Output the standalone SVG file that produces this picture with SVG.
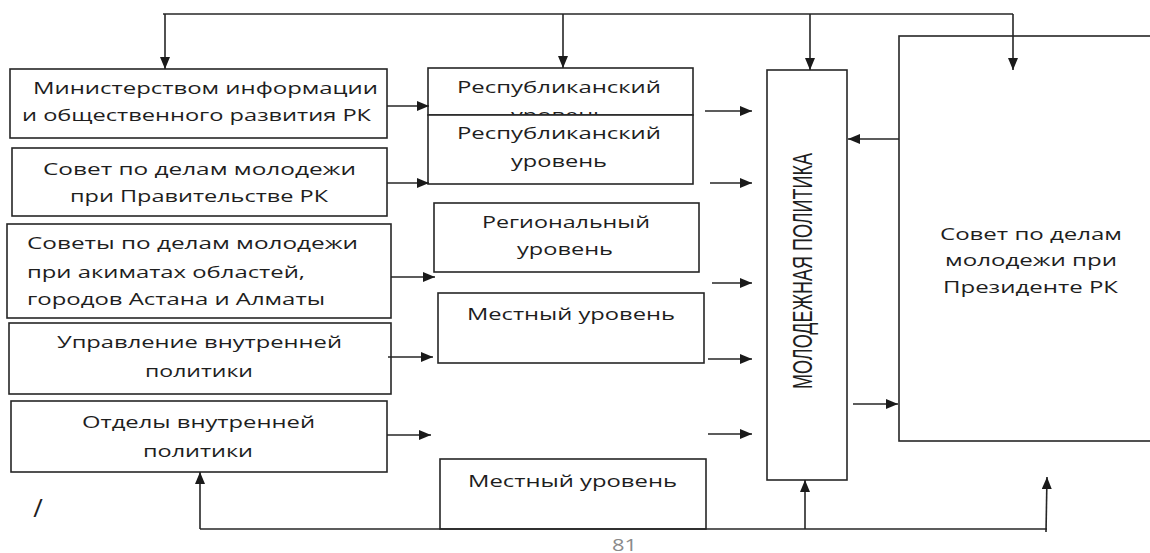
<svg xmlns="http://www.w3.org/2000/svg" width="1150" height="553" viewBox="0 0 1150 553">
<style>
.box{fill:#fff;stroke:#262626;stroke-width:1.6}
.ln{fill:none;stroke:#262626;stroke-width:1.6}
.ar{fill:none;stroke:#262626;stroke-width:1.6;marker-end:url(#ah)}
.t{font-family:"Open Sans","DejaVu Sans",sans-serif;font-size:16px;fill:#1e1e1e}
.v{font-family:"Liberation Sans",Arial,sans-serif;font-size:18px;fill:#1e1e1e}
</style>
<defs>
<marker id="ah" markerUnits="userSpaceOnUse" markerWidth="12" markerHeight="10" refX="12" refY="5" orient="auto">
<path d="M0,0 L12,5 L0,10 z" fill="#1a1a1a"/>
</marker>
<clipPath id="c6"><rect x="428" y="68" width="265" height="47"/></clipPath>
</defs>
<rect width="1150" height="553" fill="#fff"/>

<g id="n1">
<rect class="box" x="10" y="69" width="377" height="69"/>
<text class="t" x="33" y="94" textLength="345" lengthAdjust="spacingAndGlyphs">Министерством информации</text>
<text class="t" x="22" y="121" textLength="349" lengthAdjust="spacingAndGlyphs">и общественного развития РК</text>
</g>
<g id="n2">
<rect class="box" x="12" y="148" width="375" height="68"/>
<text class="t" x="43" y="175" textLength="313" lengthAdjust="spacingAndGlyphs">Совет по делам молодежи</text>
<text class="t" x="70" y="202" textLength="258" lengthAdjust="spacingAndGlyphs">при Правительстве РК</text>
</g>
<g id="n3">
<rect class="box" x="7" y="224" width="384" height="94"/>
<text class="t" x="27" y="249" textLength="331" lengthAdjust="spacingAndGlyphs">Советы по делам молодежи</text>
<text class="t" x="27" y="278" textLength="278" lengthAdjust="spacingAndGlyphs">при акиматах областей,</text>
<text class="t" x="27" y="305" textLength="298" lengthAdjust="spacingAndGlyphs">городов Астана и Алматы</text>
</g>
<g id="n4">
<rect class="box" x="9" y="323" width="382" height="71"/>
<text class="t" x="57" y="348" textLength="285" lengthAdjust="spacingAndGlyphs">Управление внутренней</text>
<text class="t" x="145" y="377" textLength="108" lengthAdjust="spacingAndGlyphs">политики</text>
</g>
<g id="n5">
<rect class="box" x="11" y="401" width="376" height="71"/>
<text class="t" x="82" y="428" textLength="233" lengthAdjust="spacingAndGlyphs">Отделы внутренней</text>
<text class="t" x="143" y="457" textLength="110" lengthAdjust="spacingAndGlyphs">политики</text>
</g>

<g id="n6">
<rect class="box" x="428" y="68" width="265" height="47"/>
<text class="t" x="457" y="93" textLength="204" lengthAdjust="spacingAndGlyphs">Республиканский</text>
<text class="t" x="511" y="121" textLength="96" lengthAdjust="spacingAndGlyphs" clip-path="url(#c6)">уровень</text>
</g>
<g id="n7">
<rect class="box" x="428" y="115" width="265" height="69"/>
<text class="t" x="457" y="139" textLength="204" lengthAdjust="spacingAndGlyphs">Республиканский</text>
<text class="t" x="511" y="167" textLength="96" lengthAdjust="spacingAndGlyphs">уровень</text>
</g>
<g id="n8">
<rect class="box" x="434" y="203" width="265" height="69"/>
<text class="t" x="482" y="228" textLength="168" lengthAdjust="spacingAndGlyphs">Региональный</text>
<text class="t" x="517" y="255" textLength="96" lengthAdjust="spacingAndGlyphs">уровень</text>
</g>
<g id="n9">
<rect class="box" x="438" y="293" width="266" height="70"/>
<text class="t" x="467" y="320" textLength="208" lengthAdjust="spacingAndGlyphs">Местный уровень</text>
</g>
<g id="n10">
<rect class="box" x="440" y="459" width="266" height="70"/>
<text class="t" x="468" y="487" textLength="209" lengthAdjust="spacingAndGlyphs">Местный уровень</text>
</g>

<g id="n11">
<rect class="box" x="767" y="70" width="80" height="410"/>
<text class="v" text-anchor="middle" transform="translate(812,271) scale(1.5,1) rotate(-90)">МОЛОДЕЖНАЯ ПОЛИТИКА</text>
</g>

<g id="n12">
<rect class="box" x="899" y="36" width="270" height="405"/>
<text class="t" x="940" y="240" textLength="182" lengthAdjust="spacingAndGlyphs">Совет по делам</text>
<text class="t" x="945" y="266" textLength="172" lengthAdjust="spacingAndGlyphs">молодежи при</text>
<text class="t" x="943" y="293" textLength="175" lengthAdjust="spacingAndGlyphs">Президенте РК</text>
</g>

<g id="connectors">
<polyline class="ln" points="163,14 1013,14"/>
<line class="ar" x1="165" y1="14" x2="165" y2="69"/>
<line class="ar" x1="563" y1="14" x2="563" y2="68"/>
<line class="ar" x1="810" y1="14" x2="810" y2="70"/>
<line class="ar" x1="1013" y1="14" x2="1013" y2="70"/>
<line class="ar" x1="387" y1="106" x2="429" y2="106"/>
<line class="ar" x1="387" y1="183" x2="429" y2="183"/>
<line class="ar" x1="391" y1="277" x2="435" y2="277"/>
<line class="ar" x1="388" y1="357" x2="433" y2="357"/>
<line class="ar" x1="387" y1="435" x2="431" y2="435"/>
<line class="ar" x1="705" y1="111" x2="752" y2="111"/>
<line class="ar" x1="710" y1="183" x2="752" y2="183"/>
<line class="ar" x1="712" y1="283" x2="752" y2="283"/>
<line class="ar" x1="708" y1="359" x2="752" y2="359"/>
<line class="ar" x1="708" y1="434" x2="752" y2="434"/>
<line class="ar" x1="899" y1="139" x2="848" y2="139"/>
<line class="ar" x1="853" y1="404" x2="898" y2="404"/>
<polyline class="ln" points="200,529 1047,529"/>
<line class="ar" x1="200" y1="529" x2="200" y2="472"/>
<line class="ar" x1="805" y1="529" x2="805" y2="480"/>
<line class="ar" x1="1046" y1="532" x2="1047" y2="477"/>
</g>

<text class="t" x="38" y="517" text-anchor="middle" style="font-size:26px">/</text>
<text class="t" x="612" y="551" textLength="25" lengthAdjust="spacingAndGlyphs" style="fill:#8a8a8a">81</text>
</svg>
